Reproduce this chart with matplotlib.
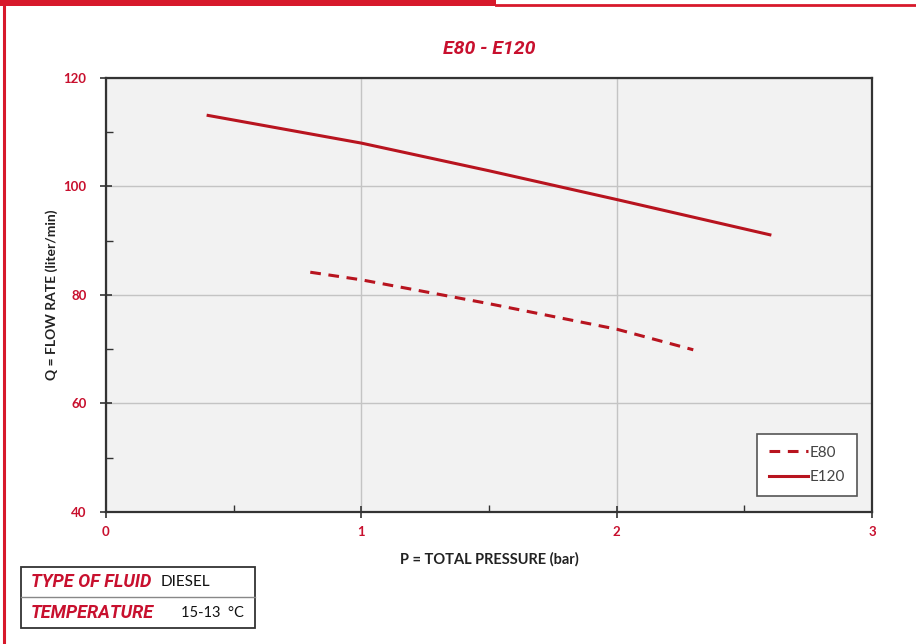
import matplotlib
matplotlib.use("Agg")
import matplotlib.pyplot as plt
from matplotlib.patches import Rectangle
from matplotlib.lines import Line2D

# values
e80_p = [0.8, 1.0, 1.5, 2.0, 2.3]
e80_q = [84.2, 82.8, 78.4, 73.7, 69.9]
e120_p = [0.4, 1.0, 1.5, 2.0, 2.6]
e120_q = [113.1, 108.0, 102.9, 97.6, 91.1]
series_names = ["E80", "E120"]
x_ticks = [0, 1, 2, 3]
y_ticks = [40, 60, 80, 100, 120]

RED = "#c8102e"
LINE_RED = "#b8141f"
FRAME_RED = "#d7192b"

plt.rcParams['font.family'] = ['Lato', 'DejaVu Sans']

fig = plt.figure(figsize=(9.16, 6.44), dpi=100)
ax = fig.add_axes([106 / 916, 1 - 512 / 644, 766 / 916, 434 / 644])
ax.set_facecolor("#f2f2f2")

ax.plot(e80_p, e80_q, color=LINE_RED, lw=2.2, dashes=(3.5, 2.5), label=series_names[0])
ax.plot(e120_p, e120_q, color=LINE_RED, lw=2.2, label=series_names[1])

ax.set_xlim(0, 3)
ax.set_ylim(40, 120)
ax.set_xticks(x_ticks)
ax.set_yticks(y_ticks)
ax.set_xticks([0.5, 1.5, 2.5], minor=True)
ax.set_yticks([50, 70, 90, 110], minor=True)
ax.grid(True, which="major", color="#c4c4c4", lw=1.0)
ax.set_axisbelow(True)

ax.tick_params(which="major", direction="inout", length=8, width=1.2, color="#333333",
               labelcolor=RED, labelsize=9.5)
ax.tick_params(which="minor", direction="in", length=5, width=1.0, color="#333333")
ax.tick_params(axis="x", pad=6)
ax.tick_params(axis="y", pad=10)
for lab in ax.get_xticklabels() + ax.get_yticklabels():
    lab.set_fontweight("bold")

for sp in ax.spines.values():
    sp.set_color("#333333")
    sp.set_linewidth(1.6)

ax.set_title("E80 - E120", color=RED, fontsize=14, fontweight="bold",
             fontstyle="italic", family=["Roboto", "DejaVu Sans"], pad=17)
ax.set_xlabel("P = TOTAL PRESSURE (bar)", fontsize=10.5, fontweight="bold",
              color="#222222", labelpad=10)
ax.set_ylabel("Q = FLOW RATE (liter/min)", fontsize=10, fontweight="bold",
              color="#222222", labelpad=4)

leg = ax.legend(loc="lower right", bbox_to_anchor=(0.98, 0.037), borderaxespad=0,
                fontsize=11, handlelength=2.6, handletextpad=0.1, borderpad=0.75,
                labelspacing=0.7, fancybox=False, framealpha=1, edgecolor="#555555")
leg.get_frame().set_linewidth(1.2)
for t in leg.get_texts():
    t.set_color("#444444")

# red page frame
fig.add_artist(Rectangle((0, 1 - 6 / 644), 496 / 916, 6 / 644, transform=fig.transFigure,
                         color=FRAME_RED, lw=0))
fig.add_artist(Line2D([496 / 916, 1], [1 - 4.5 / 644] * 2, transform=fig.transFigure,
                      color=FRAME_RED, lw=2))
fig.add_artist(Line2D([3.5 / 916] * 2, [0, 1], transform=fig.transFigure,
                      color=FRAME_RED, lw=2.2))

# fluid info box
bx0, bx1 = 21 / 916, 255 / 916
by0, bmid, by1 = 1 - 628 / 644, 1 - 597 / 644, 1 - 567 / 644
fig.add_artist(Rectangle((bx0, by0), bx1 - bx0, by1 - by0, transform=fig.transFigure,
                         facecolor="white", edgecolor="#333333", lw=1.3))
fig.add_artist(Line2D([bx0, bx1], [bmid, bmid], transform=fig.transFigure,
                      color="#888888", lw=1.0))
row1 = 1 - 582 / 644
row2 = 1 - 613 / 644
fig.text(31 / 916, row1, "TYPE OF FLUID", color=RED, fontsize=13, fontweight="bold",
         fontstyle="italic", family=["Roboto", "DejaVu Sans"], va="center")
fig.text(161 / 916, row1, "DIESEL", color="#111111", fontsize=11, va="center")
fig.text(31 / 916, row2, "TEMPERATURE", color=RED, fontsize=13, fontweight="bold",
         fontstyle="italic", family=["Roboto", "DejaVu Sans"], va="center")
fig.text(181 / 916, row2, "15-13  °C", color="#111111", fontsize=10.5, va="center")

fig.savefig("out.png", dpi=100)
